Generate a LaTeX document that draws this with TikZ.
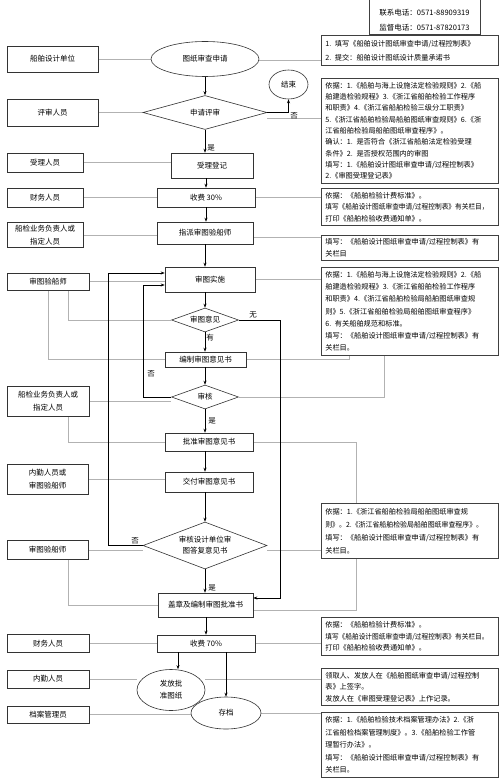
\documentclass[tikz,border=0pt]{standalone}
\usepackage{fontspec}
\usepackage{graphicx}
\setmainfont{Noto Sans CJK SC}
\usetikzlibrary{shapes.geometric,arrows.meta,calc}
\pgfdeclarelayer{bg}
\pgfsetlayers{bg,main}
\begin{document}
\begin{tikzpicture}[x=1pt,y=-1pt,
  base/.style={draw=black!80, line width=0.6pt, fill=white, inner sep=1pt, align=center, font=\fontsize{7.5}{12.5}\selectfont},
  leftbox/.style={base},
  flowbox/.style={base},
  dia/.style={base, diamond, inner sep=0pt},
  ell/.style={base, ellipse, inner sep=0pt},
  rbox/.style={draw=black!75, line width=0.6pt, fill=white, anchor=north west, text width=169pt, inner xsep=4pt, inner ysep=2pt, align=left, font=\fontsize{7.2}{12}\selectfont},
  arr/.style={draw=black, line width=0.6pt, -{Stealth[length=4pt,width=3pt]}},
  gl/.style={draw=black!30, line width=0.6pt},
  lab/.style={inner sep=0.5pt, font=\fontsize{7.5}{9}\selectfont}
]
\useasboundingbox (0,0) rectangle (500,778);
\begin{pgfonlayer}{bg}
\fill[white] (0,0) rectangle (500,778);
\end{pgfonlayer}

% contact box
\node[draw=black!75, line width=0.6pt, fill=white, minimum width=111pt, minimum height=38pt, anchor=south] (C) at (424.5,35) {};
\node[inner sep=0pt, align=center, font=\fontsize{7.5}{15}\selectfont] (Ct) at (424.5,20.5) {联系电话：0571-88909319\\监督电话：0571-87820173};

% left column
\node[leftbox, minimum width=91pt, minimum height=26pt] (L1) at (52.5,59) {船舶设计单位};
\node[leftbox, minimum width=91pt, minimum height=27pt] (L2) at (52.5,112.5) {评审人员};
\node[leftbox, minimum width=76pt, minimum height=19pt] (L3) at (45,162.5) {受理人员};
\node[leftbox, minimum width=76pt, minimum height=19pt] (L4) at (45,197.5) {财务人员};
\node[leftbox, minimum width=76pt, minimum height=25pt, font=\fontsize{7.5}{13}\selectfont] (L5) at (45,235) {船检业务负责人或\\指定人员};
\node[leftbox, minimum width=82pt, minimum height=17pt] (L6) at (48,281.5) {审图验船师};
\node[leftbox, minimum width=82pt, minimum height=30pt] (L7) at (48,401) {船检业务负责人或\\指定人员};
\node[leftbox, minimum width=81pt, minimum height=30pt] (L8) at (47.5,479) {内勤人员或\\审图验船师};
\node[leftbox, minimum width=81pt, minimum height=19pt] (L9) at (47.5,550) {审图验船师};
\node[leftbox, minimum width=82pt, minimum height=18pt] (L10) at (48,643.5) {财务人员};
\node[leftbox, minimum width=82pt, minimum height=18pt] (L11) at (48,679) {内勤人员};
\node[leftbox, minimum width=82pt, minimum height=17pt] (L12) at (48,714.5) {档案管理员};

% main flow
\node[ell, minimum width=108pt, minimum height=35pt] (F1) at (205,59) {图纸审查申请};
\node[ell, minimum width=39pt, minimum height=29pt] (E1) at (288.5,84.5) {结束};
\node[dia, minimum width=124pt, minimum height=34pt, shape aspect=3.6] (D1) at (205,112.5) {申请评审};
\node[flowbox, minimum width=82pt, minimum height=25pt] (A1) at (212,165.5) {受理登记};
\node[flowbox, minimum width=98pt, minimum height=19pt] (A2) at (206,197.5) {收费 30\%};
\node[flowbox, minimum width=96pt, minimum height=22pt] (A3) at (205,233) {指派审图验船师};
\node[flowbox, minimum width=90pt, minimum height=25pt] (A4) at (210,279.5) {审图实施};
\node[dia, minimum width=67pt, minimum height=24pt, shape aspect=2.8] (D2) at (205,320) {审图意见};
\node[flowbox, minimum width=81pt, minimum height=15pt] (A5) at (205.5,359.5) {编制审图意见书};
\node[dia, minimum width=67pt, minimum height=24pt, shape aspect=2.8] (D3) at (205,397) {审核};
\node[flowbox, minimum width=88pt, minimum height=18pt] (A6) at (209,442) {批准审图意见书};
\node[flowbox, minimum width=88pt, minimum height=20pt] (A7) at (209,482) {交付审图意见书};
\node[dia, minimum width=124pt, minimum height=47pt, shape aspect=2.6, font=\fontsize{7.5}{11}\selectfont] (D4) at (205,545.5) {审核设计单位审\\图答复意见书};
\node[flowbox, minimum width=95pt, minimum height=24pt] (A8) at (205.5,605) {盖章及编制审图批准书};
\node[flowbox, minimum width=98pt, minimum height=17pt] (A9) at (206,643.5) {收费 70\%};
\node[ell, minimum width=68pt, minimum height=41pt, font=\fontsize{7.5}{12}\selectfont] (E2) at (171,690) {发放批\\准图纸};
\node[ell, minimum width=70pt, minimum height=32pt] (E3) at (226,713) {存档};

% right column
\node[rbox, minimum height=30pt, font=\fontsize{7.2}{14}\selectfont] (R1) at (321,35) {1. 填写《船舶设计图纸审查申请/过程控制表》\\2. 提交：船舶设计图纸设计质量承诺书};
\node[rbox, minimum height=105pt, font=\fontsize{7.2}{11.3}\selectfont] (R2) at (321,78) {依据：1.《船舶与海上设施法定检验规则》2.《船\\舶建造检验规程》3.《浙江省船舶检验工作程序\\和职责》4.《浙江省船舶检验三级分工职责》\\5.《浙江省船舶检验局船舶图纸审查规则》6.《浙\\江省船舶检验局船舶图纸审查程序》。\\确认：1. 是否符合《浙江省船舶法定检验受理\\条件》2. 是否授权范围内的审图\\填写：1.《船舶设计图纸审查申请/过程控制表》\\2.《审图受理登记表》};
\node[rbox, minimum height=37pt, font=\fontsize{7.2}{11.5}\selectfont] (R3) at (321,188) {依据：《船舶检验计费标准》。\\\scalebox{0.93}[1]{填写《船舶设计图纸审查申请/过程控制表》有关栏目，}\\打印《船舶检验收费通知单》。};
\node[rbox, minimum height=25pt, font=\fontsize{7.2}{11.5}\selectfont] (R4) at (321,235) {填写：《船舶设计图纸审查申请/过程控制表》有\\关栏目};
\node[rbox, minimum height=88pt, font=\fontsize{7.2}{12.3}\selectfont] (R5) at (321,267) {依据：1.《船舶与海上设施法定检验规则》2.《船\\舶建造检验规程》3.《浙江省船舶检验工作程序\\和职责》4.《浙江省船舶检验局船舶图纸审查规\\则》5.《浙江省船舶检验局船舶图纸审查程序》\\6. 有关船舶规范和标准。\\填写：《船舶设计图纸审查申请/过程控制表》有\\关栏目。};
\node[rbox, minimum height=55pt, font=\fontsize{7.2}{13}\selectfont] (R6) at (321,503) {依据：1.《浙江省船舶检验局船舶图纸审查规\\\scalebox{0.96}[1]{则》。2.《浙江省船舶检验局船舶图纸审查程序》。}\\填写：《船舶设计图纸审查申请/过程控制表》有\\关栏目。};
\node[rbox, minimum height=38pt, font=\fontsize{7.2}{11.5}\selectfont] (R7) at (321,617) {依据：《船舶检验计费标准》。\\\scalebox{0.93}[1]{填写《船舶设计图纸审查申请/过程控制表》有关栏目。}\\打印《船舶检验收费通知单》。};
\node[rbox, minimum height=37pt, font=\fontsize{7.2}{11.5}\selectfont] (R8) at (321,668) {领取人、发放人在《船舶图纸审查申请/过程控制\\表》上签字。\\发放人在《审图受理登记表》上作记录。};
\node[rbox, minimum height=65pt, font=\fontsize{7.2}{12.5}\selectfont] (R9) at (321,712) {依据：1.《船舶检验技术档案管理办法》2.《浙\\江省船检档案管理制度》。3.《船舶检验工作管\\理暂行办法》。\\填写：《船舶设计图纸审查申请/过程控制表》有\\关栏目。};

% labels
\node[lab] (t1) at (211,148) {是};
\node[lab] (t2) at (294,116) {否};
\node[lab] (t3) at (253,315) {无};
\node[lab] (t4) at (210,338) {有};
\node[lab] (t5) at (151,374) {否};
\node[lab] (t6) at (212,421) {是};
\node[lab] (t7) at (135,541) {否};
\node[lab] (t8) at (212,588) {是};

% gray relation lines
\begin{pgfonlayer}{bg}
\draw[gl] (L1.east) -- (F1.west);
\draw[gl] ([yshift=-1pt]F1.east) -- ([yshift=-1pt]F1.east -| R1.west);
\draw[gl] (L2.east) -- (D1.west);
\draw[gl] ([yshift=-5.5pt]D1.east) -- ([yshift=-5.5pt]D1.east -| R2.west);
\draw[gl] (L3.east) -- (L3.east -| A1.west);
\draw[gl] (L4.east) -- (A2.west);
\draw[gl] (A2.east) -- (A2.east -| R3.west);
\draw[gl] (L5.east) -- (L5.east -| A3.west);
\draw[gl] ([yshift=-4pt]A3.east) -- ([yshift=-4pt]A3.east -| R4.west);
\draw[gl] (L6.east) -- (L6.east -| A4.west);
\draw[gl] (A4.east) -- (A4.east -| R5.west);
\draw[gl] ([xshift=20pt]L6.south) |- (D2.west);
\draw[gl] (L6.south) |- (A5.west);
\draw[gl] (A5.east) -| ([xshift=-60.5pt]R5.south);
\draw[gl] (D3.east) -| ([xshift=-26pt]R5.south);
\draw[gl] (L7.east) -- (L7.east -| D3.west);
\draw[gl] ([xshift=20pt]L7.south) |- (A6.west);
\draw[gl] (A6.east) -| ([xshift=-53.5pt]R6.north);
\draw[gl] (L8.east) -- (L8.east -| A7.west);
\draw[gl] (L9.east) -- (L9.east -| D4.west);
\draw[gl] (L9.east -| D4.east) -- (L9.east -| R6.west);
\draw[gl] ([xshift=20.5pt]L9.south) |- (A8.west);
\draw[gl] ([xshift=-53.5pt]R6.south) |- ([yshift=-5pt]A8.east);
\draw[gl] (L10.east) -- (A9.west);
\draw[gl] (A9.east) -- (A9.east -| R7.west);
\draw[gl] (L11.east) -- (L11.east -| E2.west);
\draw[gl] (L11.east -| E2.east) -- (L11.east -| R8.west);
\draw[gl] (L12.east) -- (L12.east -| E3.west);
\draw[gl] (E3.east) -- (E3.east -| R9.west);
\end{pgfonlayer}

% flow arrows
\draw[arr] (F1.south) -- (D1.north);
\draw[arr] (D1.east) -| (E1.south);
\draw[arr] (D1.south) -- (D1.south |- A1.north);
\draw[arr] (A2.north |- A1.south) -- (A2.north);
\draw[arr] (A2.south) -- (A2.south |- A3.north);
\draw[arr] (A3.south) -- (A3.south |- A4.north);
\draw[arr] (D2.north |- A4.south) -- (D2.north);
\draw[arr] (D2.south) -- (D2.south |- A5.north);
\draw[arr] (D2.east) -- ++(41.5,0) |- ([yshift=7pt]A8.east);
\draw[arr] (D3.north |- A5.south) -- (D3.north);
\draw[arr] (D3.west) -- ++(-28,0) |- ([yshift=-5.5pt]A4.west);
\draw[arr] (D3.south) -- (D3.south |- A6.north);
\draw[arr] (D3.south |- A6.south) -- (D3.south |- A7.north);
\draw[arr] (D4.north |- A7.south) -- (D4.north);
\draw[arr] (D4.west) -- ++(-34,0) |- ([yshift=6.5pt]A4.west);
\draw[arr] (D4.south) -- (D4.south |- A8.north);
\draw[arr] (A9.north |- A8.south) -- (A9.north);
\draw[arr] ([xshift=-28pt]A9.south) -- ([xshift=-28pt]A9.south |- E2.north);
\draw[arr] ([xshift=20pt]A9.south) -- ([xshift=20pt]A9.south |- E3.north);
\end{tikzpicture}
\end{document}
